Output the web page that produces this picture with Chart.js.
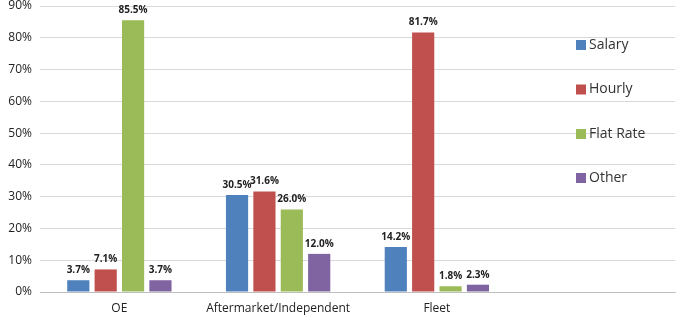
<!DOCTYPE html>
<html><head><meta charset="utf-8">
<script src="https://cdn.jsdelivr.net/npm/chart.js@4/dist/chart.umd.min.js"></script>
<style>html,body{margin:0;padding:0;background:#fff}#wrap{width:683px;height:322px;position:relative}</style>
</head><body><div id="wrap"><canvas id="c" width="683" height="322"></canvas></div>
<script>
const categories = ["OE", "Aftermarket/Independent", "Fleet", ""];
const salary = [3.7, 30.5, 14.2, null];
const hourly = [7.1, 31.6, 81.7, null];
const flatRate = [85.5, 26.0, 1.8, null];
const other = [3.7, 12.0, 2.3, null];
const seriesNames = ["Salary", "Hourly", "Flat Rate", "Other"];
const colors = ["#4F81BD", "#C0504D", "#9BBB59", "#8064A2"];
const yTicks = [0,10,20,30,40,50,60,70,80,90];

const FONT = "'Open Sans', 'Liberation Sans', sans-serif";

const labelPlugin = {
  id: 'vals',
  afterDatasetsDraw(chart) {
    const ctx = chart.ctx;
    ctx.save();
    ctx.font = "bold 10px " + FONT;
    ctx.fillStyle = "#222";
    ctx.textAlign = "center";
    ctx.textBaseline = "bottom";
    chart.data.datasets.forEach((ds, i) => {
      const meta = chart.getDatasetMeta(i);
      meta.data.forEach((bar, j) => {
        const v = ds.data[j];
        if (v == null) return;
        ctx.fillText(v.toFixed(1) + "%", bar.x, bar.y - 5);
      });
    });
    ctx.restore();
  }
};

const legendPlugin = {
  id: 'customLegend',
  afterDraw(chart) {
    const ctx = chart.ctx;
    ctx.save();
    ctx.font = "14px " + FONT;
    ctx.textBaseline = "middle";
    ctx.textAlign = "left";
    const x0 = 576;
    const ys = [45, 89.5, 134, 178];
    chart.data.datasets.forEach((ds, i) => {
      ctx.fillStyle = ds.backgroundColor;
      ctx.fillRect(x0, ys[i] - 5, 10, 10);
      ctx.fillStyle = "#333";
      ctx.fillText(ds.label, x0 + 13, ys[i]);
    });
    ctx.restore();
  }
};

const seriesData = [salary, hourly, flatRate, other];
new Chart(document.getElementById('c'), {
  type: 'bar',
  data: {
    labels: categories,
    datasets: seriesData.map((d, i) => ({
      label: seriesNames[i],
      data: d,
      backgroundColor: colors[i],
      borderWidth: 0,
      categoryPercentage: 0.69,
      barPercentage: 0.81
    }))
  },
  options: {
    responsive: false,
    animation: false,
    devicePixelRatio: 1,
    layout: { padding: { top: 6, right: 8, left: 0, bottom: 0 } },
    plugins: { legend: { display: false }, tooltip: { enabled: false } },
    scales: {
      x: {
        grid: { display: false, drawTicks: false },
        border: { display: true, color: '#bfbfbf' },
        ticks: { color: '#222', font: { family: FONT, size: 12 }, padding: 9, maxRotation: 0, autoSkip: false },
        afterFit(axis) { axis.height = 30; axis.paddingLeft = 0; axis.paddingRight = 0; }
      },
      y: {
        min: 0, max: 90,
        afterBuildTicks(axis) { axis.ticks = yTicks.map(v => ({ value: v })); },
        grid: { color: '#d9d9d9', drawTicks: false },
        border: { display: false },
        ticks: { color: '#222', font: { family: FONT, size: 12 }, padding: 8, callback: v => v + '%' },
        afterFit(axis) { axis.paddingTop = 0; axis.paddingBottom = 0; axis.width = 40; }
      }
    }
  },
  plugins: [labelPlugin, legendPlugin]
});
</script></body></html>
